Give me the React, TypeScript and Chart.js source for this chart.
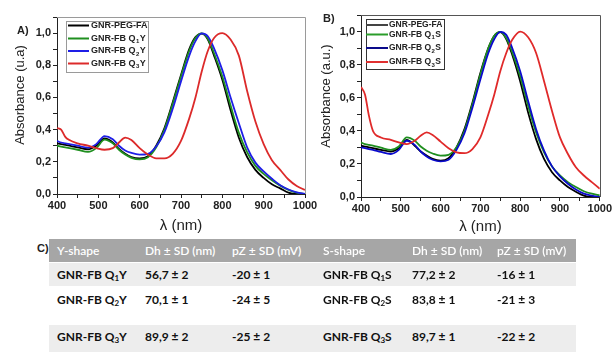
import React, { useEffect, useRef } from 'react';
import { Chart, registerables } from 'chart.js';

Chart.register(...registerables);

// ---------- DATA ----------
const WAVELENGTHS = [400, 410, 420, 430, 450, 475, 495, 515, 535, 550, 565, 580, 600, 620, 640, 660, 680, 700, 720, 735, 750, 765, 780, 800, 820, 840, 860, 880, 900, 920, 940, 960, 980, 1000];

// Panel A (Y-shape)
const A_PEG_FA = [0.315, 0.31, 0.305, 0.30, 0.29, 0.278, 0.30, 0.345, 0.32, 0.28, 0.25, 0.23, 0.222, 0.235, 0.30, 0.41, 0.57, 0.74, 0.90, 0.975, 0.997, 0.96, 0.86, 0.71, 0.52, 0.35, 0.23, 0.15, 0.10, 0.06, 0.035, 0.008, 0, 0];
const A_Q1Y = [0.30, 0.295, 0.29, 0.285, 0.275, 0.262, 0.285, 0.338, 0.315, 0.275, 0.245, 0.225, 0.215, 0.228, 0.29, 0.40, 0.56, 0.73, 0.89, 0.97, 0.998, 0.965, 0.875, 0.73, 0.55, 0.38, 0.26, 0.175, 0.125, 0.085, 0.052, 0.026, 0.008, 0.0];
const A_Q2Y = [0.33, 0.32, 0.315, 0.31, 0.30, 0.288, 0.31, 0.36, 0.34, 0.30, 0.27, 0.255, 0.245, 0.25, 0.295, 0.385, 0.53, 0.70, 0.86, 0.95, 0.998, 0.98, 0.905, 0.77, 0.60, 0.44, 0.29, 0.195, 0.14, 0.095, 0.055, 0.028, 0.01, 0.0];
const A_Q3Y = [0.41, 0.40, 0.355, 0.335, 0.315, 0.30, 0.285, 0.275, 0.285, 0.32, 0.35, 0.335, 0.285, 0.245, 0.222, 0.222, 0.25, 0.33, 0.47, 0.60, 0.76, 0.89, 0.97, 1.0, 0.96, 0.86, 0.64, 0.45, 0.31, 0.21, 0.15, 0.09, 0.05, 0.025];

// Panel B (S-shape)
const B_PEG_FA = [0.31, 0.305, 0.30, 0.295, 0.285, 0.275, 0.295, 0.345, 0.31, 0.275, 0.25, 0.23, 0.22, 0.235, 0.30, 0.41, 0.57, 0.75, 0.90, 0.975, 0.997, 0.955, 0.86, 0.70, 0.51, 0.35, 0.23, 0.15, 0.10, 0.06, 0.032, 0.008, 0, 0];
const B_Q1S = [0.33, 0.32, 0.315, 0.31, 0.298, 0.285, 0.305, 0.36, 0.34, 0.305, 0.28, 0.263, 0.25, 0.255, 0.30, 0.40, 0.56, 0.74, 0.90, 0.975, 0.998, 0.96, 0.875, 0.73, 0.55, 0.39, 0.27, 0.185, 0.13, 0.09, 0.06, 0.035, 0.02, 0.01];
const B_Q2S = [0.30, 0.295, 0.29, 0.285, 0.272, 0.26, 0.285, 0.34, 0.315, 0.275, 0.245, 0.225, 0.215, 0.225, 0.285, 0.385, 0.54, 0.71, 0.87, 0.955, 0.998, 0.98, 0.90, 0.76, 0.58, 0.41, 0.28, 0.185, 0.125, 0.08, 0.045, 0.02, 0.008, 0];
const B_Q3S = [0.665, 0.62, 0.49, 0.40, 0.36, 0.345, 0.33, 0.32, 0.34, 0.37, 0.39, 0.375, 0.335, 0.295, 0.27, 0.265, 0.29, 0.36, 0.50, 0.62, 0.76, 0.87, 0.95, 1.0, 0.965, 0.87, 0.70, 0.52, 0.36, 0.26, 0.18, 0.13, 0.09, 0.05];

// legend labels: [base, subscript, tail]
const A_LEGEND = [['GNR-PEG-FA', '', ''], ['GNR-FB Q', '1', 'Y'], ['GNR-FB Q', '2', 'Y'], ['GNR-FB Q', '3', 'Y']];
const B_LEGEND = [['GNR-PEG-FA', '', ''], ['GNR-FB Q', '1', 'S'], ['GNR-FB Q', '2', 'S'], ['GNR-FB Q', '3', 'S']];

const X_TITLE = 'λ (nm)';
const A_Y_TITLE = 'Absorbance (u.a)';
const B_Y_TITLE = 'Absorbance (a.u.)';

const TABLE_HEAD = ['Y-shape', 'Dh ± SD (nm)', 'pZ ± SD (mV)', 'S-shape', 'Dh ± SD (nm)', 'pZ ± SD (mV)'];
const Y_NAMES = [['GNR-FB Q', '1', 'Y'], ['GNR-FB Q', '2', 'Y'], ['GNR-FB Q', '3', 'Y']];
const Y_DH = ['56,7 ± 2', '70,1 ± 1', '89,9 ± 2'];
const Y_PZ = ['-20 ± 1', '-24 ± 5', '-25 ± 2'];
const S_NAMES = [['GNR-FB Q', '1', 'S'], ['GNR-FB Q', '2', 'S'], ['GNR-FB Q', '3', 'S']];
const S_DH = ['77,2 ± 2', '83,8 ± 1', '89,7 ± 1'];
const S_PZ = ['-16 ± 1', '-21 ± 3', '-22 ± 2'];

// ---------- STYLE ----------
const FONT = '"Liberation Sans", Arial, sans-serif';

const decorPlugin = {
  id: 'decor',
  afterDraw(chart: any, _args: any, opts: any) {
    const { ctx, chartArea: ca } = chart;
    ctx.save();
    ctx.strokeStyle = opts.frameColor;
    ctx.lineWidth = 1;
    ctx.beginPath();
    ctx.moveTo(ca.left, Math.round(ca.top) + 0.5);
    ctx.lineTo(Math.round(ca.right) + 0.5, Math.round(ca.top) + 0.5);
    ctx.lineTo(Math.round(ca.right) + 0.5, ca.bottom);
    ctx.stroke();
    ctx.restore();

    ctx.save();
    ctx.translate(opts.yTitleX, opts.yTitleY);
    ctx.rotate(-Math.PI / 2);
    ctx.font = '13px ' + FONT;
    ctx.fillStyle = '#222';
    ctx.textAlign = 'center';
    ctx.textBaseline = 'middle';
    ctx.fillText(opts.yTitle, 0, 0);
    ctx.restore();

    const lg = opts.legend;
    ctx.save();
    ctx.fillStyle = '#fff';
    ctx.fillRect(lg.left, lg.top, lg.width, lg.height);
    ctx.strokeStyle = lg.border;
    ctx.lineWidth = 1;
    ctx.strokeRect(lg.left + 0.5, lg.top + 0.5, lg.width, lg.height);
    chart.data.datasets.forEach((ds: any, i: number) => {
      const y = lg.rows[i];
      ctx.strokeStyle = lg.colors ? lg.colors[i] : ds.borderColor;
      ctx.lineWidth = 2;
      ctx.beginPath();
      ctx.moveTo(lg.sampleX0, y);
      ctx.lineTo(lg.sampleX1, y);
      ctx.stroke();
      const [base, sub, tail] = lg.labels[i];
      ctx.fillStyle = '#222';
      ctx.textBaseline = 'middle';
      ctx.textAlign = 'left';
      const fs = lg.fontSize;
      ctx.font = 'bold ' + fs + 'px ' + FONT;
      let x = lg.textX;
      ctx.fillText(base, x, y);
      x += ctx.measureText(base).width;
      if (sub) {
        ctx.font = 'bold 6px ' + FONT;
        ctx.fillText(sub, x + 0.5, y + 3);
        x += ctx.measureText(sub).width + 1;
        ctx.font = 'bold ' + fs + 'px ' + FONT;
        ctx.fillText(tail, x, y);
      }
    });
    ctx.restore();
  },
};

function makeConfig(series: number[][], colors: string[], p: any) {
  const yTick = (v: any) => {
    const n = Math.round(Number(v) * 10);
    return n % 2 === 0 ? (n / 10).toFixed(1).replace('.', ',') : '';
  };
  return {
    type: 'line',
    data: {
      datasets: series.map((vals, i) => ({
        label: String(i),
        data: WAVELENGTHS.map((w, j) => ({ x: w, y: vals[j] })),
        borderColor: colors[i],
        borderWidth: 1.8,
        pointRadius: 0,
        fill: false,
        cubicInterpolationMode: 'monotone',
        order: p.orders[i],
      })),
    },
    options: {
      responsive: false,
      animation: false,
      devicePixelRatio: 1,
      layout: { padding: { left: 0, right: p.padRight, top: p.padTop, bottom: 0 } },
      plugins: {
        legend: { display: false },
        tooltip: { enabled: false },
        decor: {
          frameColor: p.frameColor,
          yTitle: p.yTitle,
          yTitleX: p.yTitleX,
          yTitleY: p.yTitleY,
          legend: p.legend,
        },
      },
      scales: {
        x: {
          type: 'linear',
          min: 400,
          max: 1000,
          afterFit: (s: any) => { s.height = p.xAxisH; },
          ticks: {
            stepSize: 50,
            autoSkip: false,
            maxRotation: 0,
            padding: 1,
            color: '#222',
            font: { family: FONT, size: 11, weight: 'bold' },
            callback: (v: any) => (Number(v) % 100 === 0 ? String(v) : ''),
          },
          grid: { display: true, drawOnChartArea: false, drawTicks: true, tickLength: 4, color: '#222' },
          border: { display: true, color: '#222', width: 1 },
          title: {
            display: true,
            text: X_TITLE,
            color: '#222',
            font: { family: FONT, size: 15 },
            padding: { top: 0, bottom: p.xTitlePad },
          },
        },
        y: {
          type: 'linear',
          min: 0,
          max: 1.1,
          afterFit: (s: any) => { s.width = p.yAxisW; },
          ticks: {
            stepSize: 0.1,
            autoSkip: false,
            padding: 2,
            color: '#222',
            font: { family: FONT, size: 11, weight: 'bold' },
            callback: yTick,
          },
          grid: { display: true, drawOnChartArea: false, drawTicks: true, tickLength: 4, color: '#222' },
          border: { display: true, color: '#222', width: 1 },
        },
      },
    },
    plugins: [decorPlugin],
  };
}

const A_COLORS = ['#000000', '#1f8f1f', '#1e1ee6', '#dc2a2a'];
const B_COLORS = ['#000000', '#1f8f1f', '#0a0acc', '#e02a2a'];

function Sub({ parts }: { parts: string[] }) {
  return (
    <span>
      {parts[0]}
      <sub style={{ fontSize: '8px', verticalAlign: '-2px', lineHeight: 0 }}>{parts[1]}</sub>
      {parts[2]}
    </span>
  );
}

export default function App() {
  const refA = useRef<HTMLCanvasElement>(null);
  const refB = useRef<HTMLCanvasElement>(null);

  useEffect(() => {
    const cA = new Chart(refA.current as any, makeConfig([A_PEG_FA, A_Q1Y, A_Q2Y, A_Q3Y], A_COLORS, {
      padRight: 25,
      padTop: 17,
      xAxisH: 42,
      yAxisW: 57,
      xTitlePad: 1,
      frameColor: '#9a9a9a',
      yTitle: A_Y_TITLE,
      yTitleX: 20,
      yTitleY: 95,
      orders: [3, 2, 1, 0],
      legend: {
        left: 66, top: 21, width: 82, height: 51,
        rows: [25.5, 38.5, 51, 63.5],
        sampleX0: 68, sampleX1: 89, textX: 91,
        fontSize: 9,
        border: '#9a9a9a',
        labels: A_LEGEND,
      },
    }) as any);
    const cB = new Chart(refB.current as any, makeConfig([B_PEG_FA, B_Q1S, B_Q2S, B_Q3S], B_COLORS, {
      padRight: 12,
      padTop: 15,
      xAxisH: 39,
      yAxisW: 58,
      xTitlePad: 0,
      frameColor: '#555555',
      yTitle: B_Y_TITLE,
      yTitleX: 23,
      yTitleY: 96,
      orders: [3, 2, 1, 0],
      legend: {
        left: 63, top: 19, width: 78, height: 50,
        rows: [25, 34.5, 48, 62],
        sampleX0: 63, sampleX1: 85, textX: 86,
        fontSize: 8.5,
        border: '#333333',
        colors: ['#444444', '#2a9d2a', '#0a0a8a', '#e03030'],
        labels: B_LEGEND,
      },
    }) as any);
    return () => {
      cA.destroy();
      cB.destroy();
    };
  }, []);

  const colW = [88, 87, 91, 89, 85, 87];
  const cell: React.CSSProperties = {
    padding: '4px 0 0 8px',
    verticalAlign: 'top',
    lineHeight: '16px',
    whiteSpace: 'nowrap',
    overflow: 'hidden',
  };
  const rowHeights = [25, 37, 30];
  const rowBg = ['#ededed', '#ffffff', '#ededed'];

  return (
    <div style={{ position: 'absolute', left: 0, top: 0, width: 613, height: 352, overflow: 'hidden', background: '#fff' }}>
      <canvas ref={refA} width={330} height={236} style={{ position: 'absolute', left: 0, top: 0, width: 330, height: 236 }} />
      <canvas ref={refB} width={310} height={236} style={{ position: 'absolute', left: 303, top: 0, width: 310, height: 236 }} />
      <div style={{ position: 'absolute', left: 17, top: 24, font: 'bold 11px ' + FONT, color: '#222' }}>A)</div>
      <div style={{ position: 'absolute', left: 323, top: 12, font: 'bold 11px ' + FONT, color: '#222' }}>B)</div>
      <div style={{ position: 'absolute', left: 37, top: 242, font: 'bold 11px ' + FONT, color: '#222' }}>C)</div>
      <table
        style={{
          position: 'absolute', left: 49, top: 239, width: 527,
          borderCollapse: 'collapse', tableLayout: 'fixed',
          fontFamily: 'Lato, "Open Sans", sans-serif', fontSize: '12px', fontWeight: 'bold',
        }}
      >
        <colgroup>
          {colW.map((w, i) => <col key={i} style={{ width: w }} />)}
        </colgroup>
        <thead>
          <tr style={{ height: 23, background: '#a6a6a6', color: '#fff', borderBottom: '1px solid #fff' }}>
            {TABLE_HEAD.map((h, i) => <td key={i} style={{ ...cell, fontWeight: 600 }}>{h}</td>)}
          </tr>
        </thead>
        <tbody>
          {Y_NAMES.map((nm, r) => (
            <tr key={r} style={{ height: rowHeights[r], background: rowBg[r], color: '#111', borderBottom: '2px solid #fff' }}>
              <td style={cell}><Sub parts={nm} /></td>
              <td style={cell}>{Y_DH[r]}</td>
              <td style={cell}>{Y_PZ[r]}</td>
              <td style={cell}><Sub parts={S_NAMES[r]} /></td>
              <td style={cell}>{S_DH[r]}</td>
              <td style={cell}>{S_PZ[r]}</td>
            </tr>
          ))}
        </tbody>
      </table>
    </div>
  );
}
